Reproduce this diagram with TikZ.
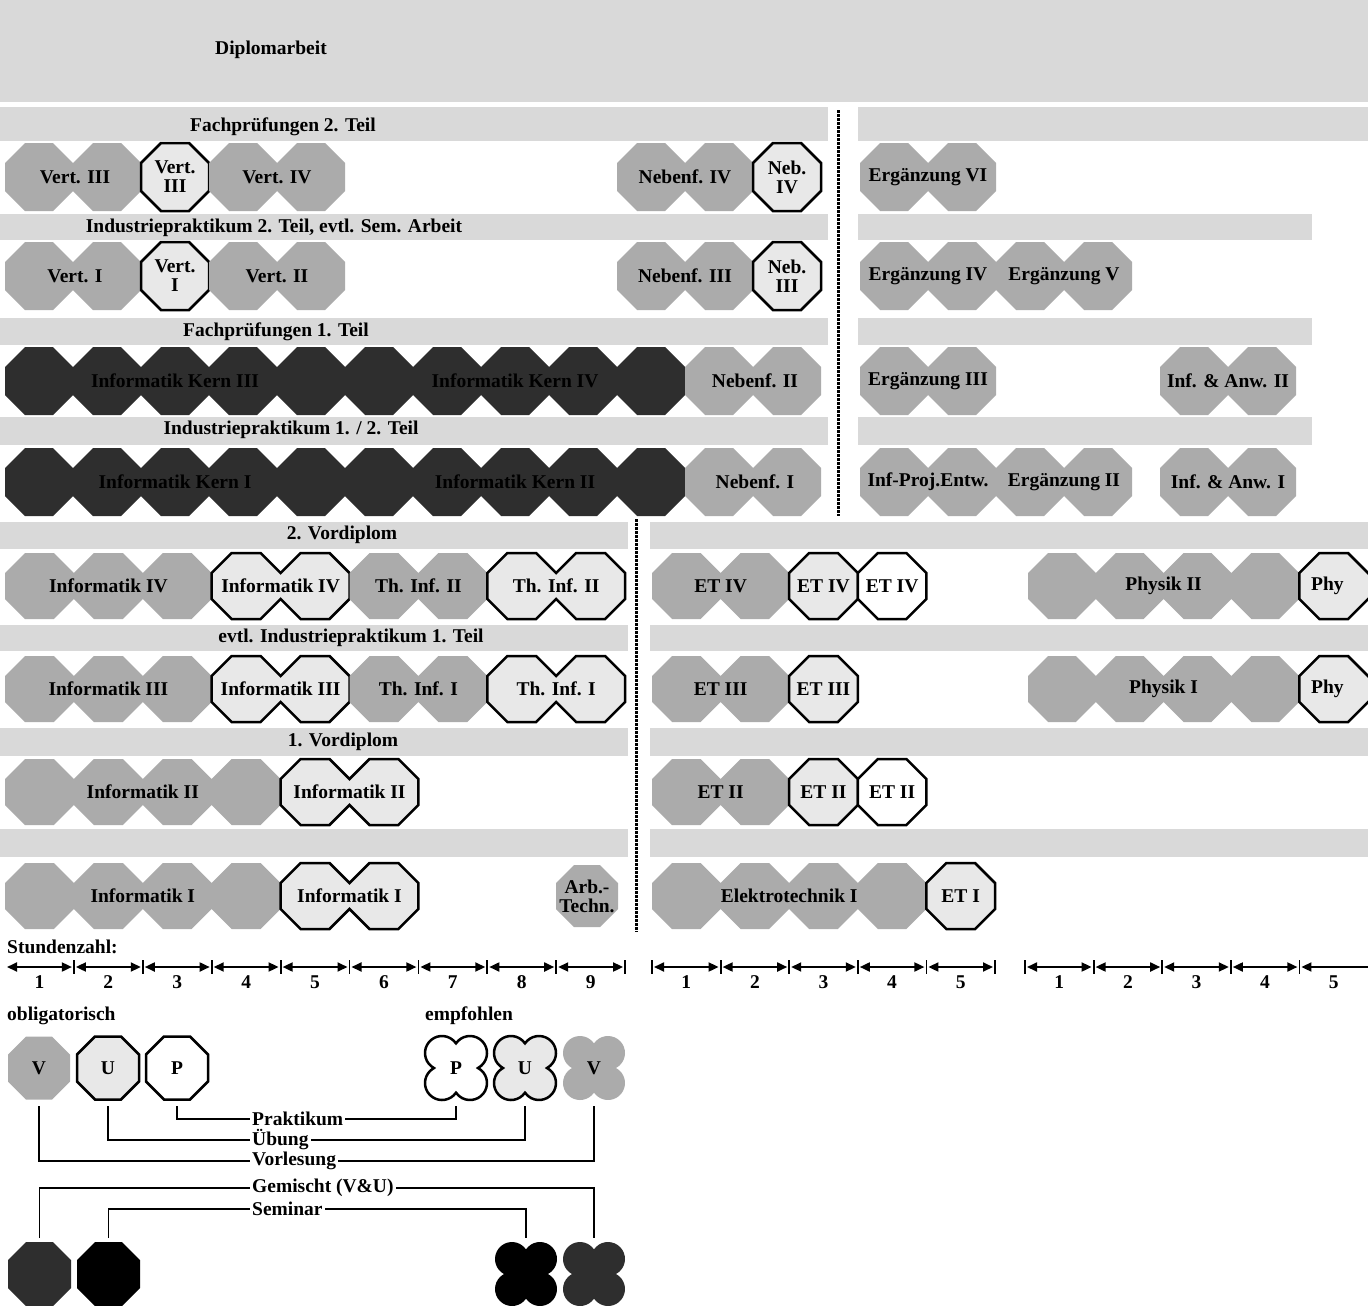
\documentclass[tikz,border=0pt]{standalone}
\usepackage{fontspec}
\setmainfont{Liberation Serif}
\usetikzlibrary{arrows.meta}
\def\chm{20}
\newcommand\octchain[6]{% style, x0, width, count, yc, half-height
  \path[#1] ({#2},{#5-#6+\chm})
    \foreach \k in {1,...,#4}{ -- ({#2+(\k-1)*#3+\chm},{#5-#6}) -- ({#2+\k*#3-\chm},{#5-#6}) -- ({#2+\k*#3},{#5-#6+\chm}) }
    -- ({#2+#4*#3},{#5+#6-\chm})
    \foreach \k in {#4,...,1}{ -- ({#2+\k*#3-\chm},{#5+#6}) -- ({#2+(\k-1)*#3+\chm},{#5+#6}) -- ({#2+(\k-1)*#3},{#5+#6-\chm}) }
    -- cycle;
}
\newcommand\clover[3]{% style, cx, cy
  \begin{scope}[shift={(#2,#3)}, y=1pt]
  \path[#1] (0,24.64) arc[start angle=145.44,end angle=-61.93,radius=17]
    arc[start angle=61.93,end angle=-145.44,radius=17]
    arc[start angle=-34.56,end angle=-241.93,radius=17]
    arc[start angle=241.93,end angle=34.56,radius=17] -- cycle;
  \end{scope}
}
\begin{document}
\begin{tikzpicture}[x=1pt,y=-1pt,
  lbl/.style={font=\fontsize{19.5}{19}\selectfont\bfseries, inner sep=0pt, align=center},
  band/.style={fill=black!15},
  vfill/.style={fill=black!33},
  ufill/.style={draw=black, line width=2.5pt, fill=black!9, line join=miter},
  pfill/.style={draw=black, line width=2.5pt, fill=white, line join=miter},
  gfill/.style={fill=black!82},
  sfill/.style={fill=black},
  dline/.style={line width=3pt, dash pattern=on 2.6pt off 1.4pt},
  scl/.style={line width=1.8pt, {Triangle[length=10pt,width=9pt]}-{Triangle[length=10pt,width=9pt]}},
  tick/.style={line width=1.8pt},
  conn/.style={line width=1.8pt},
  gap/.style={fill=white, inner xsep=2pt, inner ysep=1pt},
]
\clip (0,0) rectangle (1368,1306);
\fill[white] (0,0) rectangle (1368,1306);

% ---------------- bands, upper part
\path[band] (0,0) rectangle (1368,102);
\node[lbl] (tDipl) at (271,50) {Diplomarbeit};
\path[band] (0,107) rectangle (828,141);
\path[band] (858,107) rectangle (1368,141);
\node[lbl] (tFP2) at (283,127) {Fachprüfungen 2. Teil};
\path[band] (0,214) rectangle (828,240);
\path[band] (858,214) rectangle (1312,240);
\node[lbl] (tIP2) at (274,228) {Industriepraktikum 2. Teil, evtl. Sem. Arbeit};
\path[band] (0,318) rectangle (828,345);
\path[band] (858,318) rectangle (1312,345);
\node[lbl] (tFP1) at (276,332) {Fachprüfungen 1. Teil};
\path[band] (0,417) rectangle (828,445);
\path[band] (858,417) rectangle (1312,445);
\node[lbl] (tIP12) at (291,430) {Industriepraktikum 1. / 2. Teil};

\draw[dline] (838,110) -- (838,516);

% row A
\octchain{vfill}{5}{68}{2}{177}{34}
\node[lbl] (vIIIv) at (75,177) {Vert. III};
\octchain{ufill}{141}{68}{1}{177}{34}
\node[lbl] (vIIIu) at (175,177) {Vert.\\III};
\octchain{vfill}{209}{68}{2}{177}{34}
\node[lbl] (vIVv) at (277,177) {Vert. IV};
\octchain{vfill}{617}{68}{2}{177}{34}
\node[lbl] (nIVv) at (685,177) {Nebenf. IV};
\octchain{ufill}{753}{68}{1}{177}{34}
\node[lbl] (nIVu) at (787,177) {Neb.\\IV};
\octchain{vfill}{860}{68}{2}{177}{34}
\node[lbl] (eVI) at (928,177) {Ergänzung VI};

% row B
\octchain{vfill}{5}{68}{2}{276}{34}
\node[lbl] (vIv) at (75,276) {Vert. I};
\octchain{ufill}{141}{68}{1}{276}{34}
\node[lbl] (vIu) at (175,276) {Vert.\\I};
\octchain{vfill}{209}{68}{2}{276}{34}
\node[lbl] (vIIv) at (277,276) {Vert. II};
\octchain{vfill}{617}{68}{2}{276}{34}
\node[lbl] (nIIIv) at (685,276) {Nebenf. III};
\octchain{ufill}{753}{68}{1}{276}{34}
\node[lbl] (nIIIu) at (787,276) {Neb.\\III};
\octchain{vfill}{860}{68}{2}{276}{34}
\node[lbl] (eIV) at (928,276) {Ergänzung IV};
\octchain{vfill}{996}{68}{2}{276}{34}
\node[lbl] (eV) at (1064,276) {Ergänzung V};

% row C
\octchain{gfill}{5}{68}{5}{381}{34}
\node[lbl] (kIII) at (175,381) {Informatik Kern III};
\octchain{gfill}{345}{68}{5}{381}{34}
\node[lbl] (kIV) at (515,381) {Informatik Kern IV};
\octchain{vfill}{685}{68}{2}{381}{34}
\node[lbl] (nII) at (755,381) {Nebenf. II};
\octchain{vfill}{860}{68}{2}{381}{34}
\node[lbl] (eIII) at (928,381) {Ergänzung III};
\octchain{vfill}{1160}{68}{2}{381}{34}
\node[lbl] (iaII) at (1228,381) {Inf. \& Anw. II};

% row D
\octchain{gfill}{5}{68}{5}{482}{34}
\node[lbl] (kI) at (175,482) {Informatik Kern I};
\octchain{gfill}{345}{68}{5}{482}{34}
\node[lbl] (kII) at (515,482) {Informatik Kern II};
\octchain{vfill}{685}{68}{2}{482}{34}
\node[lbl] (nI) at (755,482) {Nebenf. I};
\octchain{vfill}{860}{68}{2}{482}{34}
\node[lbl] (ipe) at (928,482) {Inf-Proj.Entw.};
\octchain{vfill}{996}{68}{2}{482}{34}
\node[lbl] (eII) at (1064,482) {Ergänzung II};
\octchain{vfill}{1160}{68}{2}{482}{34}
\node[lbl] (iaI) at (1228,482) {Inf. \& Anw. I};

% ---------------- bands, lower part
\path[band] (0,522) rectangle (628,549);
\path[band] (650,522) rectangle (1368,549);
\node[lbl] (tVD2) at (342,535) {2. Vordiplom};
\path[band] (0,625) rectangle (628,651);
\path[band] (650,625) rectangle (1368,651);
\node[lbl] (tIP1) at (351,638) {evtl. Industriepraktikum 1. Teil};
\path[band] (0,728) rectangle (628,756);
\path[band] (650,728) rectangle (1368,756);
\node[lbl] (tVD1) at (343,742) {1. Vordiplom};
\path[band] (0,829) rectangle (628,857);
\path[band] (650,829) rectangle (1368,857);

\draw[dline] (636,519) -- (636,932);

% row E
\octchain{vfill}{5}{68.9}{3}{586}{33}
\node[lbl] (iIVv) at (108.4,586) {Informatik IV};
\octchain{ufill}{211.7}{68.9}{2}{586}{33}
\node[lbl] (iIVu) at (280.6,586) {Informatik IV};
\octchain{vfill}{349.5}{68.9}{2}{586}{33}
\node[lbl] (tIIv) at (418.4,586) {Th. Inf. II};
\octchain{ufill}{487.3}{68.9}{2}{586}{33}
\node[lbl] (tIIu) at (556.2,586) {Th. Inf. II};
\octchain{vfill}{652}{68.6}{2}{586}{33}
\node[lbl] (etIVv) at (720.6,586) {ET IV};
\octchain{ufill}{789.2}{68.6}{1}{586}{33}
\node[lbl] (etIVu) at (823.5,586) {ET IV};
\octchain{pfill}{857.8}{68.6}{1}{586}{33}
\node[lbl] (etIVp) at (892.1,586) {ET IV};
\octchain{vfill}{1028}{67.8}{4}{586}{33}
\node[lbl] (phIIv) at (1163.6,586) {Physik II};
\octchain{ufill}{1299.4}{68.6}{2}{586}{33}
\node[lbl, anchor=west] (phIIu) at (1311,586) {Phy};

% row F
\octchain{vfill}{5}{68.9}{3}{689}{33}
\node[lbl] (iIIIv) at (108.4,689) {Informatik III};
\octchain{ufill}{211.7}{68.9}{2}{689}{33}
\node[lbl] (iIIIu) at (280.6,689) {Informatik III};
\octchain{vfill}{349.5}{68.9}{2}{689}{33}
\node[lbl] (tIv) at (418.4,689) {Th. Inf. I};
\octchain{ufill}{487.3}{68.9}{2}{689}{33}
\node[lbl] (tIu) at (556.2,689) {Th. Inf. I};
\octchain{vfill}{652}{68.6}{2}{689}{33}
\node[lbl] (etIIIv) at (720.6,689) {ET III};
\octchain{ufill}{789.2}{68.6}{1}{689}{33}
\node[lbl] (etIIIu) at (823.5,689) {ET III};
\octchain{vfill}{1028}{67.8}{4}{689}{33}
\node[lbl] (phIv) at (1163.6,689) {Physik I};
\octchain{ufill}{1299.4}{68.6}{2}{689}{33}
\node[lbl, anchor=west] (phIu) at (1311,689) {Phy};

% row G
\octchain{vfill}{5}{68.9}{4}{792}{33}
\node[lbl] (iIIv) at (142.8,792) {Informatik II};
\octchain{ufill}{280.6}{68.9}{2}{792}{33}
\node[lbl] (iIIu) at (349.5,792) {Informatik II};
\octchain{vfill}{652}{68.6}{2}{792}{33}
\node[lbl] (etIIv) at (720.6,792) {ET II};
\octchain{ufill}{789.2}{68.6}{1}{792}{33}
\node[lbl] (etIIu) at (823.5,792) {ET II};
\octchain{pfill}{857.8}{68.6}{1}{792}{33}
\node[lbl] (etIIp) at (892.1,792) {ET II};

% row H
\octchain{vfill}{5}{68.9}{4}{896}{33}
\node[lbl] (iIv) at (142.8,896) {Informatik I};
\octchain{ufill}{280.6}{68.9}{2}{896}{33}
\node[lbl] (iIu) at (349.5,896) {Informatik I};
\octchain{vfill}{652}{68.6}{4}{896}{33}
\node[lbl] (etIv) at (789.2,896) {Elektrotechnik I};
\octchain{ufill}{926.4}{68.6}{1}{896}{33}
\node[lbl] (etIu) at (960.7,896) {ET I};
\def\chm{18}
\octchain{vfill}{556}{62}{1}{896}{31}
\node[lbl] (arb) at (587,896) {Arb.-\\Techn.};

% ---------------- scales
\node[lbl, anchor=west] (tStd) at (7,947) {Stundenzahl:};
\foreach \k in {1,...,9}{
  \pgfmathsetmacro\xa{5+68.9*(\k-1)}
  \pgfmathsetmacro\xb{5+68.9*\k}
  \draw[scl] ({\xa+2},967) -- ({\xb-2},967);
  \draw[tick] (\xb,960) -- (\xb,974);
  \node[lbl] (sa\k) at ({(\xa+\xb)/2},982) {\k};
}
\draw[tick] (652,960) -- (652,974);
\foreach \k in {1,...,5}{
  \pgfmathsetmacro\xa{652+68.6*(\k-1)}
  \pgfmathsetmacro\xb{652+68.6*\k}
  \draw[scl] ({\xa+2},967) -- ({\xb-2},967);
  \draw[tick] (\xb,960) -- (\xb,974);
  \node[lbl] (sb\k) at ({(\xa+\xb)/2},982) {\k};
}
\draw[tick] (1025,960) -- (1025,974);
\foreach \k in {1,...,4}{
  \pgfmathsetmacro\xa{1025+68.6*(\k-1)}
  \pgfmathsetmacro\xb{1025+68.6*\k}
  \draw[scl] ({\xa+2},967) -- ({\xb-2},967);
  \draw[tick] (\xb,960) -- (\xb,974);
  \node[lbl] (sc\k) at ({(\xa+\xb)/2},982) {\k};
}
\draw[line width=1.8pt, {Triangle[length=10pt,width=9pt]}-] (1301.4,967) -- (1372,967);
\node[lbl] (sc5) at (1333.7,982) {5};

% ---------------- legend
\node[lbl, anchor=west] (tObl) at (7,1016) {obligatorisch};
\node[lbl, anchor=west] (tEmp) at (425,1016) {empfohlen};

\octchain{vfill}{8}{62}{1}{1068}{31.5}
\node[lbl] (lgV) at (39,1068) {V};
\octchain{ufill}{77}{62}{1}{1068}{31.5}
\node[lbl] (lgU) at (108,1068) {U};
\octchain{pfill}{146}{62}{1}{1068}{31.5}
\node[lbl] (lgP) at (177,1068) {P};
\clover{pfill}{456}{1068}
\node[lbl] (lgPc) at (456,1068) {P};
\clover{ufill}{525}{1068}
\node[lbl] (lgUc) at (525,1068) {U};
\clover{vfill}{594}{1068}
\node[lbl] (lgVc) at (594,1068) {V};

\octchain{gfill}{8}{63}{1}{1274}{32}
\coordinate (lgG) at (39.5,1274);
\octchain{sfill}{77}{63}{1}{1274}{32}
\coordinate (lgS) at (108.5,1274);
\clover{sfill}{526}{1274}
\coordinate (lgSc) at (526,1274);
\clover{gfill}{594}{1274}
\coordinate (lgGc) at (594,1274);

\coordinate (ltop) at (0,1106);
\coordinate (lbot) at (0,1238);
\coordinate (yPr) at (250,1119);
\coordinate (yUe) at (250,1140);
\coordinate (yVo) at (250,1161);
\coordinate (yGe) at (250,1188);
\coordinate (ySe) at (250,1209);
\draw[conn] (lgP |- ltop) -- (lgP |- yPr) -- (lgPc |- yPr) -- (lgPc |- ltop);
\draw[conn] (lgU |- ltop) -- (lgU |- yUe) -- (lgUc |- yUe) -- (lgUc |- ltop);
\draw[conn] (lgV |- ltop) -- (lgV |- yVo) -- (lgVc |- yVo) -- (lgVc |- ltop);
\draw[conn] (lgG |- lbot) -- (lgG |- yGe) -- (lgGc |- yGe) -- (lgGc |- lbot);
\draw[conn] (lgS |- lbot) -- (lgS |- ySe) -- (lgSc |- ySe) -- (lgSc |- lbot);
\node[lbl, gap, anchor=west] (tPr) at (yPr) {Praktikum};
\node[lbl, gap, anchor=west] (tUe) at (yUe) {Übung};
\node[lbl, gap, anchor=west] (tVo) at (yVo) {Vorlesung};
\node[lbl, gap, anchor=west] (tGe) at (yGe) {Gemischt (V\&U)};
\node[lbl, gap, anchor=west] (tSe) at (ySe) {Seminar};
\end{tikzpicture}
\end{document}
